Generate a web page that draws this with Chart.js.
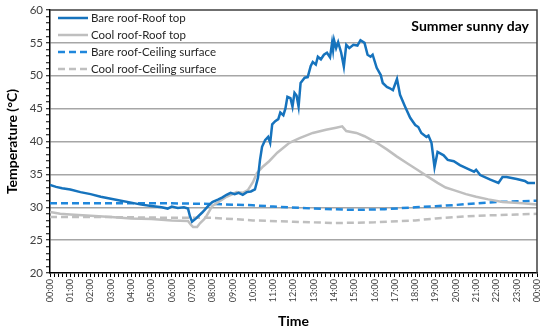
<!DOCTYPE html>
<html><head><meta charset="utf-8">
<script src="https://cdn.jsdelivr.net/npm/chart.js@4/dist/chart.umd.min.js"></script>
<style>html,body{margin:0;padding:0;background:#fff}#wrap{width:550px;height:334px}</style>
</head><body><div id="wrap"><canvas id="c" width="550" height="334"></canvas></div>
<script>
const seriesNames = ['Bare roof-Roof top','Cool roof-Roof top','Bare roof-Ceiling surface','Cool roof-Ceiling surface'];
const chartTitle = 'Summer sunny day';
const xTitle = 'Time';
const yTitle = 'Temperature (°C)';
const yTicks = [20,25,30,35,40,45,50,55,60];
const xTickHours = [0,1,2,3,4,5,6,7,8,9,10,11,12,13,14,15,16,17,18,19,20,21,22,23,24];

const bareTopTime = [0,0.3,0.6,1,1.5,2,2.5,3,3.5,4,4.5,5,5.5,5.8,6,6.3,6.6,6.8,6.9,7,7.2,7.5,7.8,8,8.3,8.5,8.7,8.9,9.1,9.3,9.5,9.7,9.9,10.1,10.25,10.35,10.45,10.6,10.75,10.85,10.95,11.1,11.25,11.35,11.5,11.6,11.7,11.85,11.95,12.05,12.15,12.25,12.35,12.55,12.7,12.85,12.95,13.1,13.2,13.35,13.5,13.65,13.8,13.9,13.95,14,14.1,14.2,14.35,14.48,14.6,14.75,14.95,15.15,15.3,15.5,15.65,15.8,15.9,16.1,16.3,16.4,16.6,16.75,16.9,17.1,17.25,17.5,17.75,18,18.15,18.3,18.55,18.65,18.8,18.95,19.1,19.4,19.6,19.9,20.2,20.7,20.9,21,21.2,21.7,22.1,22.3,22.5,23,23.4,23.55,23.9];
const bareTopTemp = [33.4,33.1,32.9,32.7,32.3,32.0,31.6,31.3,31.0,30.7,30.4,30.2,30.0,29.8,30.1,29.9,30.0,29.8,28.6,27.8,28.3,29.2,30.2,30.8,31.2,31.5,31.9,32.2,32.0,32.2,31.9,32.3,32.4,32.7,34.5,37.2,39.2,40.2,40.7,39.8,42.6,43.1,43.4,44.4,44.0,45.0,46.8,46.6,45.3,47.4,47.0,45.3,48.9,49.7,49.8,51.5,52.1,51.7,52.9,52.5,53.2,53.5,52.8,55.0,53.9,55.4,54.2,55.1,53.5,51.4,54.7,54.2,54.7,54.6,55.4,55.0,53.2,52.9,53.2,51.2,50.1,48.9,48.3,48.1,47.8,49.5,47.1,45.3,43.6,42.5,42.2,41.3,40.7,40.9,39.8,36.1,38.4,37.9,37.2,37.0,36.4,35.7,35.4,35.7,34.9,34.2,33.7,34.6,34.6,34.3,34.0,33.7,33.7];

const coolTopTime = [0,0.5,1,2,3,4,5,6,6.8,6.95,7.05,7.25,7.4,7.6,7.7,8,8.4,8.7,9,9.2,9.5,9.75,10,10.2,10.5,10.8,11.2,11.8,12.3,12.95,13.6,14.1,14.4,14.6,15.1,15.5,16.1,16.6,17.1,17.6,18.1,18.6,19.1,19.5,19.9,20.5,21,21.6,22.3,23.3,24];
const coolTopTemp = [29.3,29.0,28.9,28.7,28.5,28.3,28.2,28.0,27.9,27.3,27.0,27.0,27.6,28.2,28.6,30.2,31.0,31.6,32.0,32.3,32.2,32.6,33.8,35.2,36.2,37.0,38.3,39.8,40.5,41.3,41.8,42.1,42.3,41.6,41.3,40.8,39.8,38.8,37.7,36.7,35.7,34.7,33.7,33.0,32.6,32.0,31.6,31.2,30.8,30.6,30.4];

const bareCeilTime = [0,3,6,8,10,11,13,15,16.5,18,19,20,21,22,23,24];
const bareCeilTemp = [30.6,30.6,30.6,30.5,30.3,30.1,29.8,29.6,29.7,30.0,30.15,30.35,30.6,30.8,30.9,31.0];

const coolCeilTime = [0,3,6,8,10,12,14,16,18,19,20,21,22,23,24];
const coolCeilTemp = [28.5,28.5,28.4,28.4,28.0,27.8,27.6,27.7,28.0,28.3,28.5,28.7,28.8,28.9,29.0];

function pts(t, v){ return t.map((x,i)=>({x:x, y:v[i]})); }
function hourLabel(h){ return String(h % 24).padStart(2,'0') + ':00'; }

const FONT = 'Lato';
const BLUE = '#1673bd';
const BLUE2 = '#1f87dc';
const GRAY = '#bfbfbf';

const overlay = {
  id:'overlay',
  afterDatasetsDraw(chart){
    const {ctx, chartArea:a} = chart;
    ctx.save();
    ctx.strokeStyle = '#404040';
    ctx.lineWidth = 1.5;
    ctx.beginPath();
    ctx.moveTo(a.left, a.top); ctx.lineTo(a.right, a.top); ctx.lineTo(a.right, a.bottom);
    ctx.stroke();
    // legend
    chart.data.datasets.forEach((ds, i) => {
      const y = 18 + i * 17;
      ctx.strokeStyle = ds.borderColor;
      ctx.lineWidth = ds.borderWidth;
      ctx.setLineDash(ds.borderDash || []);
      ctx.beginPath(); ctx.moveTo(58, y); ctx.lineTo(88, y); ctx.stroke();
      ctx.setLineDash([]);
      ctx.fillStyle = '#262626';
      ctx.font = '11.5px ' + FONT;
      ctx.textBaseline = 'middle';
      ctx.textAlign = 'left';
      ctx.fillText(ds.label, 91, y);
    });
    ctx.font = 'bold 14px ' + FONT;
    ctx.fillStyle = '#000';
    ctx.textAlign = 'right';
    ctx.textBaseline = 'middle';
    ctx.fillText(chartTitle, 529, 26);
    ctx.restore();
  }
};

new Chart(document.getElementById('c'), {
  type:'line',
  data:{
    datasets:[
      {label:seriesNames[0], data:pts(bareTopTime, bareTopTemp), borderColor:BLUE, borderWidth:2.5},
      {label:seriesNames[1], data:pts(coolTopTime, coolTopTemp), borderColor:GRAY, borderWidth:2.5},
      {label:seriesNames[2], data:pts(bareCeilTime, bareCeilTemp), borderColor:BLUE2, borderWidth:2.5, borderDash:[7,4]},
      {label:seriesNames[3], data:pts(coolCeilTime, coolCeilTemp), borderColor:GRAY, borderWidth:2.5, borderDash:[7,4]}
    ].map(d => Object.assign(d, {pointRadius:0, tension:0, fill:false}))
  },
  options:{
    responsive:false, animation:false,
    layout:{padding:{left:0, right:13, top:10, bottom:0}},
    plugins:{legend:{display:false}, tooltip:{enabled:false}, title:{display:false}},
    scales:{
      x:{
        type:'linear', min:xTickHours[0], max:xTickHours[xTickHours.length-1],
        afterFit(s){ s.height = 61; },
        ticks:{stepSize:0.2, autoSkip:false, maxRotation:90, minRotation:90, padding:2,
          font:{family:FONT, size:9}, color:'#404040',
          callback:(v)=>{ const r = Math.round(v); return (Math.abs(v-r)<1e-6 && xTickHours.includes(r)) ? hourLabel(r) : ''; }},
        grid:{drawOnChartArea:false, tickLength:4, tickColor:'#000', tickWidth:1},
        border:{color:'#000', width:1.5},
        title:{display:true, text:xTitle, color:'#000', font:{family:FONT, size:14, weight:'bold'}}
      },
      y:{
        min:yTicks[0], max:yTicks[yTicks.length-1],
        afterFit(s){ s.width = 50; },
        ticks:{stepSize:1, autoSkip:false, padding:3, font:{family:FONT, size:11.5}, color:'#404040',
          callback:(v)=> yTicks.includes(v) ? String(v) : ''},
        grid:{
          color:(c)=> (yTicks.includes(c.tick.value) && c.tick.value!==yTicks[0] && c.tick.value!==yTicks[yTicks.length-1]) ? '#a6a6a6' : 'rgba(0,0,0,0)',
          lineWidth:1.5, tickColor:'#000', tickLength:4, tickWidth:1
        },
        border:{color:'#000', width:1.5},
        title:{display:true, text:yTitle, color:'#000', font:{family:FONT, size:14, weight:'bold'}}
      }
    }
  },
  plugins:[overlay]
});
</script>
</body></html>
